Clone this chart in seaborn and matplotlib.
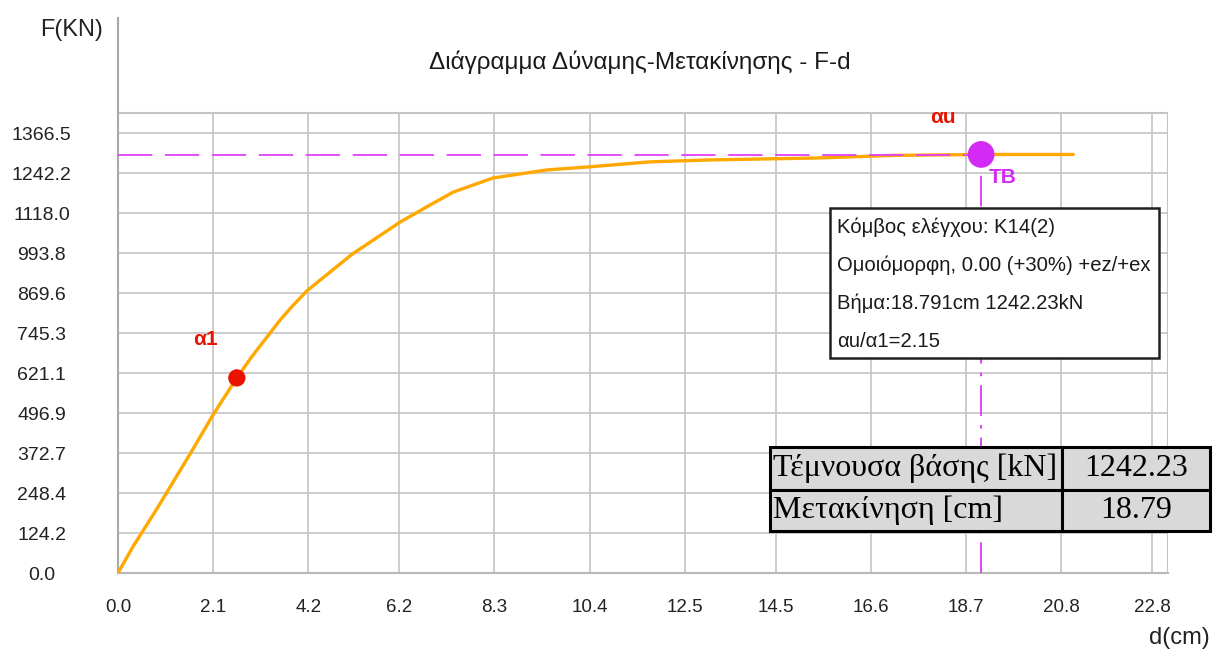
import matplotlib
matplotlib.use("Agg")
import matplotlib.pyplot as plt
import seaborn as sns
import pandas as pd
from matplotlib.patches import Rectangle

# ---------------- data ----------------
disp_cm = [0.0, 0.33, 0.86, 1.59, 2.09, 2.62, 2.95, 3.46, 3.57, 3.85, 4.17, 5.16, 6.22, 6.88,
           7.39, 8.27, 9.46, 10.34, 11.73, 13.05, 15.41, 17.09, 19.03, 21.06]
force_kn = [0, 82, 200, 370, 490, 606, 672, 765, 785, 830, 877, 990, 1090, 1143,
            1183, 1227, 1252, 1261, 1277, 1283, 1289, 1297, 1300, 1300]

a1_point = (2.62, 606)
au_point = (19.03, 1300)

x_ticks = [0.0, 2.1, 4.2, 6.2, 8.3, 10.4, 12.5, 14.5, 16.6, 18.7, 20.8, 22.8]
y_ticks = [0.0, 124.2, 248.4, 372.7, 496.9, 621.1, 745.3, 869.6, 993.8, 1118.0, 1242.2, 1366.5]

title = "Διάγραμμα Δύναμης-Μετακίνησης - F-d"
info_lines = ["Κόμβος ελέγχου: K14(2)",
              "Ομοιόμορφη, 0.00 (+30%) +ez/+ex",
              "Βήμα:18.791cm 1242.23kN",
              "αu/α1=2.15"]
table_rows = [["Τέμνουσα βάσης [kN]", "1242.23"],
              ["Μετακίνηση [cm]", "18.79"]]

# ---------------- style ----------------
sns.set_theme(style="white")
plt.rcParams["font.family"] = ["Liberation Sans", "DejaVu Sans"]

W, H = 1214, 653
fig = plt.figure(figsize=(W / 100, H / 100), dpi=100)
fig.patch.set_facecolor("white")

# axes: left px 118, right px 1168, bottom px 573, top px 18
L, R, B, T = 118, 1168, 573, 18
ax = fig.add_axes([L / W, (H - B) / H, (R - L) / W, (B - T) / H])
ax.set_facecolor("white")

xmax = 23.15
ytop_grid = 1429
ax.set_xlim(0, xmax)
ax.set_ylim(0, (B - T) * 3.106)

grid_c = "#c4c4c4"
for s in ["top", "right"]:
    ax.spines[s].set_visible(False)
ax.spines["left"].set_color("#a8a8a8")
ax.spines["left"].set_linewidth(1.5)
ax.spines["bottom"].set_color("#b8b8b8")
ax.spines["bottom"].set_linewidth(1.5)

# grid box
ax.vlines(x_ticks[1:], 0, ytop_grid, color=grid_c, lw=1.2, zorder=1)
ax.vlines([xmax], 0, ytop_grid, color=grid_c, lw=1.5, zorder=1)
ax.hlines(y_ticks[1:], 0, xmax, color=grid_c, lw=1.2, zorder=1)
ax.hlines([ytop_grid], 0, xmax, color=grid_c, lw=1.5, zorder=1)

# ticks
ax.set_xticks(x_ticks)
ax.set_xticklabels([f"{v:.1f}" for v in x_ticks])
ax.set_yticks(y_ticks)
ax.set_yticklabels([f"{v:.1f}" for v in y_ticks])
ax.tick_params(axis="x", length=0, pad=19, labelsize=13.5, labelcolor="#222222")
ax.tick_params(axis="y", length=0, pad=55, labelsize=14, labelcolor="#222222")
for lab in ax.get_yticklabels():
    lab.set_horizontalalignment("center")

# curve
df = pd.DataFrame({"d": disp_cm, "F": force_kn})
sns.lineplot(data=df, x="d", y="F", ax=ax, color="#FFA800", lw=2.4,
             sort=False, estimator=None, zorder=3)
ax.set_xlabel("")
ax.set_ylabel("")

# reference lines at ultimate point
ax.plot([0, au_point[0]], [au_point[1] - 2, au_point[1] - 2], color="#E040FB", lw=1.3,
        dashes=(19, 7), zorder=4)
ax.plot([au_point[0], au_point[0]], [0, au_point[1]], color="#D63CF2", lw=1.3,
        dashes=(17, 5, 2, 5), zorder=4)

# points
pts = pd.DataFrame({"d": [a1_point[0]], "F": [a1_point[1]]})
sns.scatterplot(data=pts, x="d", y="F", ax=ax, s=155, color="#E81400",
                edgecolor="none", zorder=5)
ptu = pd.DataFrame({"d": [au_point[0]], "F": [au_point[1]]})
sns.scatterplot(data=ptu, x="d", y="F", ax=ax, s=370, color="#D42AF5",
                edgecolor="none", zorder=5)
ax.set_xlabel("")
ax.set_ylabel("")

ax.text(1.92, 724, "α1", color="#E81400", fontsize=15, fontweight="bold",
        ha="center", va="center", zorder=6)
ax.text(18.19, 1416, "αu", color="#E81400", fontsize=15, fontweight="bold",
        ha="center", va="center", zorder=6)
ax.text(19.2, 1227, "TB", color="#D42AF5", fontsize=15, fontweight="bold",
        ha="left", va="center", zorder=6)

# axis titles and chart title (figure pixel positions)
def fx(px):
    return px / W

def fy(py):
    return 1 - py / H

fig.text(fx(72), fy(30), "F(KN)", fontsize=17, color="#222222", ha="center", va="center")
fig.text(fx(1179), fy(638), "d(cm)", fontsize=17, color="#222222", ha="center", va="center")
fig.text(fx(640), fy(62), title, fontsize=17.5, color="#1a1a1a", ha="center", va="center")

# info box
bx0, by0, bx1, by1 = 830, 208, 1159, 358
fig.patches.append(Rectangle((fx(bx0), fy(by1)), (bx1 - bx0) / W, (by1 - by0) / H,
                             transform=fig.transFigure, facecolor="white",
                             edgecolor="#202020", lw=1.8, zorder=10))
for yy, line in zip([227, 265, 303, 341], info_lines):
    fig.text(fx(837), fy(yy), line, fontsize=14.6, color="#1a1a1a",
             ha="left", va="center", zorder=11)

# table
tx0, tx1, txm = 770, 1210, 1062
ty0, ty1, tym = 447, 531, 490
cells = [(tx0, ty0, txm, tym), (txm, ty0, tx1, tym),
         (tx0, tym, txm, ty1), (txm, tym, tx1, ty1)]
for (x0, y0, x1, y1) in cells:
    fig.patches.append(Rectangle((fx(x0), fy(y1)), (x1 - x0) / W, (y1 - y0) / H,
                                 transform=fig.transFigure, facecolor="#d9d9d9",
                                 edgecolor="black", lw=2.2, zorder=10))
rows_y = [(ty0 + tym) / 2, (tym + ty1) / 2]
for yy, (lab, val) in zip(rows_y, table_rows):
    fig.text(fx(tx0 + 3), fy(yy), lab, fontsize=23, family=["Liberation Serif"],
             color="black", ha="left", va="center", zorder=11)
    fig.text(fx((txm + tx1) / 2), fy(yy), val, fontsize=23, family=["Liberation Serif"],
             color="black", ha="center", va="center", zorder=11)

fig.savefig("out.png", dpi=100)
